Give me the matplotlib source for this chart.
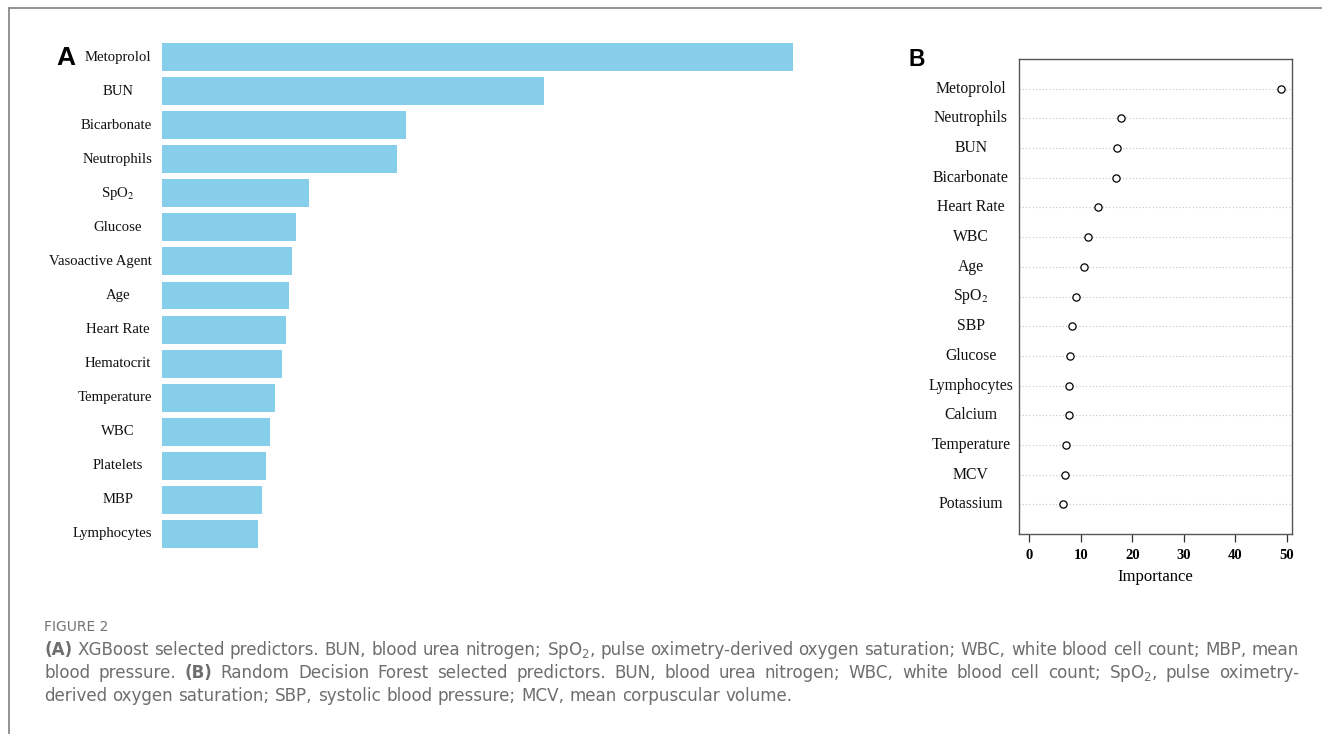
import matplotlib
matplotlib.use("Agg")
import matplotlib.pyplot as plt
from matplotlib.lines import Line2D

plt.rcParams['mathtext.fontset'] = 'dejavusans'

# ---------------- data ----------------
xgb_features = ["Metoprolol", "BUN", "Bicarbonate", "Neutrophils", "SpO$_2$", "Glucose",
                "Vasoactive Agent", "Age", "Heart Rate", "Hematocrit", "Temperature",
                "WBC", "Platelets", "MBP", "Lymphocytes"]
xgb_importance = [100.0, 60.5, 38.7, 37.2, 23.3, 21.2, 20.6, 20.1, 19.7, 19.0,
                  17.9, 17.1, 16.5, 15.8, 15.2]

rf_features = ["Metoprolol", "Neutrophils", "BUN", "Bicarbonate", "Heart Rate", "WBC",
               "Age", "SpO$_2$", "SBP", "Glucose", "Lymphocytes", "Calcium",
               "Temperature", "MCV", "Potassium"]
rf_importance = [48.8, 17.8, 17.1, 16.9, 13.4, 11.4, 10.7, 9.2, 8.3, 7.9, 7.75, 7.7,
                 7.1, 6.9, 6.65]
rf_ticks = [0, 10, 20, 30, 40, 50]

caption_title = "FIGURE 2"
caption_lines = [
    ("(A)* XGBoost selected predictors. BUN, blood urea nitrogen; SpO$_2$, pulse "
     "oximetry-derived oxygen saturation; WBC, white blood cell count; MBP, mean", True),
    ("blood pressure. (B)* Random Decision Forest selected predictors. BUN, blood urea "
     "nitrogen; WBC, white blood cell count; SpO$_2$, pulse oximetry-", True),
    ("derived oxygen saturation; SBP, systolic blood pressure; MCV, mean corpuscular volume.", False),
]

# ---------------- figure ----------------
FW, FH = 1322, 734
fig = plt.figure(figsize=(FW / 100, FH / 100), dpi=100)
fig.patch.set_facecolor("white")


def fx(px):
    return px / FW


def fy(py):
    return 1 - py / FH


# outer frame (top and left lines)
fig.add_artist(Line2D([fx(9), 1.0], [fy(8), fy(8)], color="#8a8a8a", lw=1.3,
                      transform=fig.transFigure))
fig.add_artist(Line2D([fx(9), fx(9)], [fy(8), 0.0], color="#8a8a8a", lw=1.3,
                      transform=fig.transFigure))

renderer = fig.canvas.get_renderer()

# ---------------- Panel A ----------------
n = len(xgb_features)
slot = 34.07
top_px = 57 - slot / 2
axA = fig.add_axes([fx(162), fy(top_px + slot * n), fx(793) - fx(162), (slot * n) / FH])
ypos = list(range(n))
axA.barh(ypos, xgb_importance, height=0.82, color="#87CEEB", edgecolor="none")
axA.set_xlim(0, 100)
axA.set_ylim(n - 0.5, -0.5)
axA.axis("off")

for i, name in enumerate(xgb_features):
    ycen = fy(57 + slot * i)
    t = fig.text(fx(118), ycen, name, ha="center", va="center", fontsize=10.6,
                 family="Liberation Serif", math_fontfamily="stix", color="#111111")
    bb = t.get_window_extent(renderer)
    if bb.x1 > 152:
        t.set_ha("right")
        t.set_x(fx(152))

fig.text(fx(56), fy(58), "A", ha="left", va="center", fontsize=19, fontweight="bold",
         family="Liberation Sans", color="black")

# ---------------- Panel B ----------------
axB = fig.add_axes([fx(1019), fy(534), fx(1292) - fx(1019), (534 - 59) / FH])
m = len(rf_features)
yB = list(range(m, 0, -1))
for yy in yB:
    axB.axhline(yy, color="#c4c4c4", lw=0.8, linestyle=(0, (1, 2)), zorder=1)
axB.plot(rf_importance, yB, linestyle="none", marker="o", markersize=5.2,
         markerfacecolor="white", markeredgecolor="black", markeredgewidth=0.9, zorder=3)
axB.set_xlim(-1.94, 50.97)
axB.set_ylim(0, m + 1)
axB.set_yticks([])
axB.set_xticks(rf_ticks)
axB.set_xticklabels([str(v) for v in rf_ticks], fontsize=10.5, family="Liberation Serif",
                    fontweight="bold")
axB.tick_params(axis="x", length=6, width=0.9, color="#333333", pad=5)
for s in axB.spines.values():
    s.set_color("#555555")
    s.set_linewidth(1.0)
axB.set_xlabel("Importance", fontsize=12, family="Liberation Serif", labelpad=5)

for name, yy in zip(rf_features, yB):
    ycen_px = 59 + (m + 1 - yy) / (m + 1) * (534 - 59)
    fig.text(fx(971), fy(ycen_px), name, ha="center", va="center", fontsize=11.3,
             family="Liberation Serif", math_fontfamily="stix", color="#111111")

fig.text(fx(909), fy(59), "B", ha="left", va="center", fontsize=16.5, fontweight="bold",
         family="Liberation Sans", color="black")

# ---------------- Caption ----------------
CAP_FONT = "DejaVu Sans"
CAP_SIZE = 12.1
cap_color = "#6e6e6e"
fig.text(fx(44), fy(627), caption_title, ha="left", va="center", fontsize=10,
         family=CAP_FONT, color="#737373")


def place_line(line, ypx, justify, x0=44, x1=1299):
    words = line.split(" ")
    arts = []
    widths = []
    for w in words:
        bold = w.endswith("*")
        txt = w[:-1] if bold else w
        t = fig.text(0, fy(ypx), txt, ha="left", va="baseline", fontsize=CAP_SIZE,
                     family=CAP_FONT, color=cap_color,
                     fontweight="bold" if bold else "normal")
        bb = t.get_window_extent(renderer)
        arts.append(t)
        widths.append(bb.width)
    if justify and len(words) > 1:
        gap = (x1 - x0 - sum(widths)) / (len(words) - 1)
    else:
        sp = fig.text(0, 0, "a a", fontsize=CAP_SIZE, family=CAP_FONT)
        sp2 = fig.text(0, 0, "aa", fontsize=CAP_SIZE, family=CAP_FONT)
        gap = sp.get_window_extent(renderer).width - sp2.get_window_extent(renderer).width
        sp.remove()
        sp2.remove()
    x = x0
    for t, w in zip(arts, widths):
        t.set_x(fx(x))
        x += w + gap


for k, (line, just) in enumerate(caption_lines):
    place_line(line, 655 + 23 * k, just)

fig.savefig("out.png", dpi=100, facecolor="white")
